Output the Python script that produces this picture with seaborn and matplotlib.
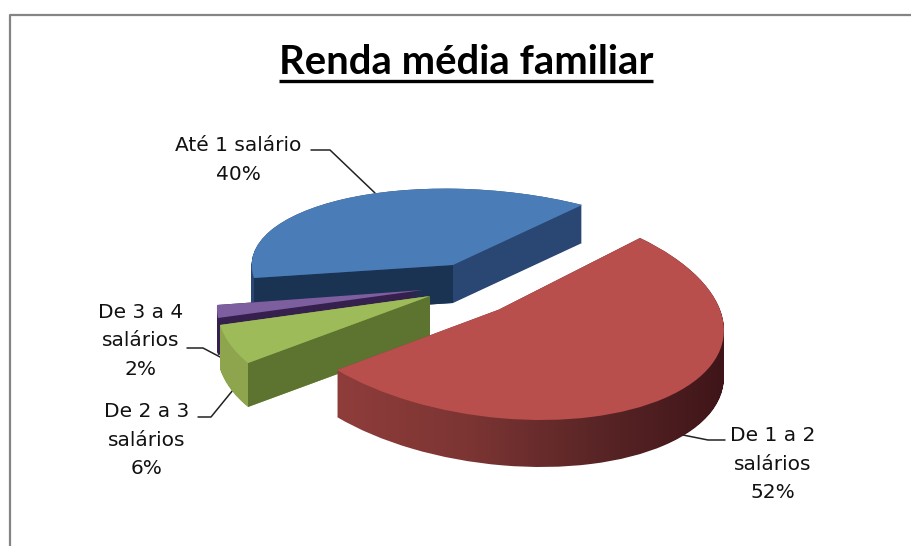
import numpy as np
import seaborn as sns
import matplotlib
matplotlib.use("Agg")
import matplotlib.pyplot as plt
from matplotlib.colors import LinearSegmentedColormap
from matplotlib.path import Path
from matplotlib.transforms import Transform

title = "Renda média familiar"
categories = ["Até 1 salário", "De 1 a 2\nsalários", "De 2 a 3\nsalários", "De 3 a 4\nsalários"]
percents = [40, 52, 6, 2]

top_colors = ["#4a7db8", "#b94f4c", "#9dbb58", "#7d5f9f"]
side_colors = [["#2a4774", "#2a4774"],
               ["#8f3d3b", "#7c3533", "#5a2526", "#3f1519"],
               ["#8fa54e", "#8a9f4a"],
               ["#36204d", "#36204d"]]
# cut face that shows towards the viewer
cut_faces = ["#1b3352", None, "#5c7430", None]

# where each slice lands on the picture: apex, theta2 end, middle of the arc, theta1 end
anchors = [((453, 265), (254, 278), (344, 199), (582, 205)),
           (None, (640, 238), (665, 398), (337, 370)),
           ((430, 296), (248, 363), None, (220, 325)),
           ((423, 290), (218, 318), None, (217, 305))]
depths = [38, 47, 44, 37]
draw_rank = [0, 3, 2, 1]

label_pos = [(238, 160), (773, 464), (147, 440), (141, 341)]
leaders = [[(311, 150), (330, 150), (375, 193)],
           [(725, 440), (708, 440), (673, 433)],
           [(198, 417), (211, 417), (233, 390)],
           [(187, 348), (203, 348), (222, 358)]]


def solve_warp(src, dst):
    rows, rhs = [], []
    for (x, y), (u, v) in zip(src, dst):
        rows.append([x, y, 1, 0, 0, 0, -u * x, -u * y])
        rows.append([0, 0, 0, x, y, 1, -v * x, -v * y])
        rhs += [u, v]
    return np.append(np.linalg.solve(np.array(rows, float), np.array(rhs, float)), 1).reshape(3, 3)


class Warp(Transform):
    input_dims = 2
    output_dims = 2

    def __init__(self, matrix):
        super().__init__()
        self.matrix = matrix

    def transform_non_affine(self, values):
        pts = np.column_stack([values, np.ones(len(values))]) @ self.matrix.T
        return pts[:, :2] / pts[:, 2:]


sns.set_theme(style="white")
W, H = 911, 546
fig = plt.figure(figsize=(W / 100, H / 100), dpi=100, facecolor="white")
ax = fig.add_axes([0, 0, 1, 1])

wedges, _ = ax.pie(percents, colors=top_colors, startangle=170, counterclock=False)
frame_x = [10, 10, W]
frame_y = [H, 15, 15]

for i, wedge in enumerate(wedges):
    apex, p2, mid, p1 = [None if p is None else np.array(p, float) for p in anchors[i]]
    t1, t2 = np.radians(wedge.theta1), np.radians(wedge.theta2)
    tm = (t1 + t2) / 2
    half = np.cos((t2 - t1) / 2)
    if apex is None:
        # slice over a half circle: the apex follows from its ends and arc
        apex = ((p1 + p2) / 2 - half * mid) / (1 - half)
    if mid is None:
        mid = apex + (p1 - apex + p2 - apex) / (2 * half)
    src = [(0, 0), (np.cos(t2), np.sin(t2)), (np.cos(tm), np.sin(tm)), (np.cos(t1), np.sin(t1))]
    warp = Warp(solve_warp(src, [apex, p2, mid, p1]))

    base = 10 + 10 * draw_rank[i]
    wedge.set_transform(warp + ax.transData)
    wedge.set_edgecolor("none")
    wedge.set_zorder(base + 3)

    # side of the slice: the warped wedge pushed down, filled with a left to right shade
    outline = wedge.get_path()
    verts = warp.transform_non_affine(outline.vertices)
    layers = [Path(verts + [0, dy], outline.codes) for dy in range(depths[i] + 1)]
    side = Path.make_compound_path(*layers)
    x0, x1 = verts[:, 0].min(), verts[:, 0].max()
    y0, y1 = verts[:, 1].min(), verts[:, 1].max() + depths[i]
    cmap = LinearSegmentedColormap.from_list("side", side_colors[i])
    im = ax.imshow(np.linspace(0, 1, 256).reshape(1, -1), cmap=cmap, aspect="auto",
                   extent=(x0, x1, y1, y0), zorder=base + 1)
    im.set_clip_path(side, transform=ax.transData)

    if cut_faces[i] is not None:
        ends = [apex, p2, p2 + [0, depths[i]], apex + [0, depths[i]]]
        ax.fill([p[0] for p in ends], [p[1] for p in ends], color=cut_faces[i], lw=0, zorder=base + 2)

for i, name in enumerate(categories):
    x, y = label_pos[i]
    ax.text(x, y, f"{name}\n{percents[i]}%", ha="center", va="center", fontsize=14.5,
            family="DejaVu Sans", linespacing=1.62, color="#111111", zorder=60)
    ax.plot([p[0] for p in leaders[i]], [p[1] for p in leaders[i]], color="#222222", lw=1.1, zorder=5)

ax.plot(frame_x, frame_y, color="#848484", lw=1.6, zorder=1)
ax.text(466, 63, title, ha="center", va="center", fontsize=28.8, fontweight="bold",
        family="Lato", color="black", zorder=60)
ax.plot([279, 653], [81, 81], color="black", lw=2.4, zorder=60, solid_capstyle="butt")

ax.set_aspect("auto")
ax.set_xlim(0, W)
ax.set_ylim(H, 0)
ax.axis("off")

fig.savefig("out.png", dpi=100, facecolor="white")
